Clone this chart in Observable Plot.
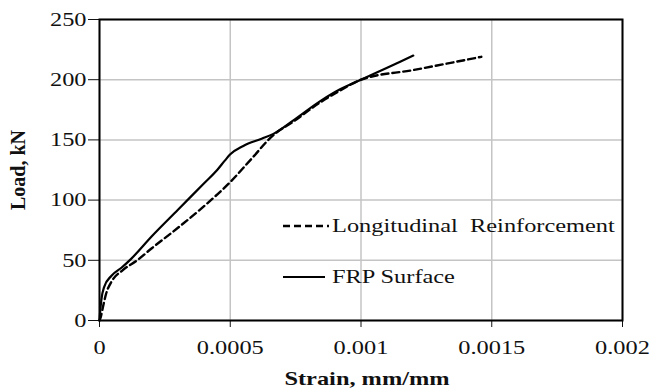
<!DOCTYPE html>
<html><head><meta charset="utf-8">
<script src="https://cdn.jsdelivr.net/npm/d3@7"></script>
<script src="https://cdn.jsdelivr.net/npm/@observablehq/plot@0.6"></script>
<style>body{margin:0;background:#fff} #chart svg{display:block}</style>
</head><body><div id="chart"></div>
<script>
// Longitudinal reinforcement (dashed)
const longStrain = [0, 0.000005, 0.00001, 0.000025, 0.000048, 0.000087, 0.000144, 0.0002, 0.0003, 0.0004, 0.0005, 0.00058, 0.000665, 0.00074, 0.00085, 0.00092, 0.001, 0.0012, 0.00146];
const longLoad   = [0, 3, 8, 22, 33, 41.5, 50, 60, 77, 95, 115, 134, 154, 165, 182, 191, 200, 208, 219];
// FRP surface (solid)
const frpStrain = [0, 0.000002, 0.000007, 0.000018, 0.000045, 0.000085, 0.00012, 0.0002, 0.0003, 0.0004, 0.00045, 0.00048, 0.0005, 0.00055, 0.00062, 0.000665, 0.00074, 0.00085, 0.00092, 0.001, 0.0011, 0.0012];
const frpLoad   = [0, 6, 17, 28, 37, 44, 51, 70, 92, 114, 125, 133, 138, 145, 151, 155, 166, 183, 192, 200, 210, 220];

const xTicks = [0, 0.0005, 0.001, 0.0015, 0.002];
const yTicks = [0, 50, 100, 150, 200, 250];
const seriesNames = ["Longitudinal  Reinforcement", "FRP Surface"];
const xTitle = "Strain, mm/mm";
const yTitle = "Load, kN";

const longRows = longStrain.map((s, i) => ({series: seriesNames[0], strain: s, load: longLoad[i]}));
const frpRows = frpStrain.map((s, i) => ({series: seriesNames[1], strain: s, load: frpLoad[i]}));

const FONT = "'Liberation Serif','Times New Roman',serif";
const DASH = "7,4";

const chart = Plot.plot({
  width: 660, height: 389,
  marginLeft: 99, marginRight: 38, marginTop: 19, marginBottom: 69,
  style: {fontFamily: FONT, fontSize: "19.5px", color: "#111", background: "#fff"},
  x: {domain: [0, 0.002]},
  y: {domain: [0, 250]},
  marks: [
    Plot.gridX(xTicks, {stroke: "#c4c4c4", strokeOpacity: 1, strokeWidth: 1.5}),
    Plot.gridY(yTicks, {stroke: "#c4c4c4", strokeOpacity: 1, strokeWidth: 1.5}),
    Plot.axisX(xTicks, {tickSize: 7, tickPadding: 13, label: null, tickFormat: d => String(d)}),
    Plot.axisY(yTicks, {tickSize: 11, tickPadding: 2, label: null, tickFormat: d => String(d)}),
    Plot.line(longRows, {x: "strain", y: "load", stroke: "black", strokeWidth: 2.4, strokeDasharray: DASH, curve: "monotone-x"}),
    Plot.line(frpRows, {x: "strain", y: "load", stroke: "black", strokeWidth: 2.2, curve: "monotone-x"}),
    Plot.frame({stroke: "black", strokeWidth: 2})
  ]
});
document.getElementById("chart").appendChild(chart);

const svg = d3.select(chart);
// legend
const legend = svg.append("g").attr("aria-label", "legend").attr("text-anchor", "start");
const legendItems = [
  {name: seriesNames[0], dash: DASH, w: 2.4, x1: 283, x2: 329, y: 226},
  {name: seriesNames[1], dash: null, w: 2.2, x1: 283, x2: 325, y: 277}
];
legendItems.forEach(it => {
  legend.append("line").attr("x1", it.x1).attr("x2", it.x2).attr("y1", it.y).attr("y2", it.y)
    .attr("stroke", "black").attr("stroke-width", it.w).attr("stroke-dasharray", it.dash);
  legend.append("text").attr("transform", `translate(332,${it.y + 6})`).attr("text-anchor", "start").attr("fill", "#111")
    .style("white-space", "pre").text(it.name);
});
// x title
svg.append("text").attr("transform", "translate(367,385)").attr("text-anchor", "middle")
  .attr("font-weight", "bold").attr("fill", "#111").text(xTitle);

// horizontal stretch of text, as in the reference
const SX = 1.25;
chart.querySelectorAll("text").forEach(t => {
  const T = t.getAttribute("transform") || "";
  const x = t.getAttribute("x"), y = t.getAttribute("y");
  let tx = 0, ty = 0;
  if (x && /^-?[\d.]+$/.test(x)) { tx = +x; t.removeAttribute("x"); }
  if (y && /^-?[\d.]+$/.test(y)) { ty = +y; t.removeAttribute("y"); }
  t.setAttribute("transform", `${T} translate(${tx},${ty}) scale(${SX},1)`);
});

// y title
svg.append("text").attr("transform", "translate(25,170) rotate(-90)").attr("text-anchor", "middle")
  .attr("font-weight", "bold").attr("font-size", 20).attr("fill", "#111").text(yTitle);
</script>
</body></html>
